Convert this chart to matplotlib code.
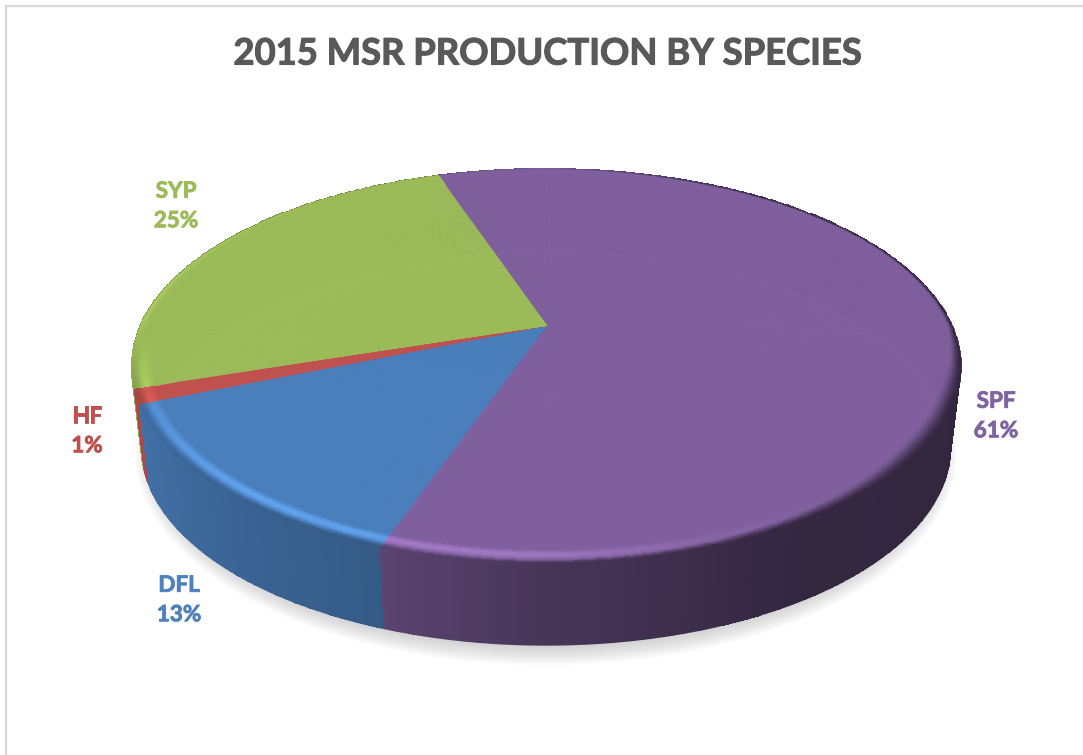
import numpy as np
import matplotlib
matplotlib.use("Agg")
import matplotlib.pyplot as plt
import matplotlib.patheffects as pe
from matplotlib.collections import LineCollection

# slices go clockwise from the start angle, same order as in the sheet
species = ["SPF", "DFL", "HF", "SYP"]
share = [60.5, 13.4, 1.2, 24.9]
share_labels = ["61%", "13%", "1%", "25%"]
top_colors = ["#7F5F9D", "#4A7EBB", "#C0504D", "#9BBB59"]
label_colors = ["#8064A2", "#4F81BD", "#C0504D", "#9BBB59"]
title = "2015 MSR PRODUCTION BY SPECIES"

# label anchors, in figure pixels
label_xy = [(996, 416), (179, 600), (87, 431), (176, 206)]

plt.rcParams["font.family"] = ["Lato", "DejaVu Sans"]

# pie geometry, perspective circle
cx, cy = 546, 325
b, a, k = 406.0, 189.2, 0.205
start = 108.5
side_dy, side_sx = 82.0, 0.975
r0 = 0.95


def project(t, r=1.0):
    t = np.radians(t)
    d = 1 + k * r * np.sin(t)
    return b * r * np.cos(t) / d, -a * r * np.sin(t) / d


def side_level(t):
    return np.interp(np.mod(t, 360), [0, 180, 195, 250, 270, 300, 360],
                     [.39, .80, .92, .72, .56, .41, .39])


def edge_level(t):
    return np.interp(np.mod(t, 360), [0, 60, 90, 130, 175, 195, 250, 270, 300, 360],
                     [.42, .50, .95, 1.0, 1.10, .88, .70, .56, .41, .42])


def glow(t):
    return np.interp(np.mod(t, 360), [0, 185, 205, 230, 265, 290, 310, 360],
                     [0, 0, .16, .30, .26, .06, 0, 0])


def blend_start(t):
    return np.interp(np.mod(t, 360), [0, 30, 90, 200, 270, 290, 325, 340, 360],
                     [.75, .85, .85, .55, .72, .55, .05, .10, .75])


def smooth(u):
    u = np.clip(u, 0, 1)
    return u * u * (3 - 2 * u)


fig = plt.figure(figsize=(10.83, 7.55), dpi=100)
ax = fig.add_axes([0, 0, 1, 1])
ax.set_xlim(0, 1083)
ax.set_ylim(755, 0)
ax.axis("off")

# chart frame, cut by the screenshot at right and bottom
ax.plot([6, 6, 1083], [755, 6, 6], color="#D9D9D9", lw=1.6, solid_capstyle="butt")

# soft shadow under the disc
tt = np.linspace(0, 360, 361)
for i in range(14):
    sx = 411 - i * 2.0
    sy = 213 - i * 2.0
    ax.fill(cx + sx * np.cos(np.radians(tt)), 452 + sy * np.sin(np.radians(tt)),
            color="#8C8C8C", alpha=0.045, lw=0)

angles = start - np.cumsum([0] + share) * 360.0 / sum(share)


def slice_angles(i):
    n = max(int(abs(angles[i + 1] - angles[i])) * 2, 4)
    return np.linspace(angles[i], angles[i + 1], n)


# side wall first, back slices before front ones
for i in [3, 2, 1, 0]:
    ts = slice_angles(i)
    if i != 0:
        ts = np.sort(ts)
    base = np.array(matplotlib.colors.to_rgb(top_colors[i]))
    x, y = project(ts)
    xt, yt = cx + x, cy + y
    xb, yb = cx + x * side_sx, cy + y + side_dy
    # mesh without antialiasing, so smooth the lower outline with a line
    mid = (ts[:-1] + ts[1:]) / 2
    rgb = np.clip(base[None, :] * side_level(mid)[:, None], 0, 1)
    pts = np.column_stack([xb, yb])
    segs = np.stack([pts[:-1], pts[1:]], axis=1)
    ax.add_collection(LineCollection(segs, colors=rgb, linewidths=1.0, zorder=2))
    v = np.linspace(0, 1, 3)[:, None]
    X = xt[None, :] * (1 - v) + xb[None, :] * v
    Y = yt[None, :] * (1 - v) + yb[None, :] * v
    C = np.repeat(rgb[None, :, :], 2, axis=0)
    ax.pcolormesh(X, Y, C, shading="flat", antialiased=False, edgecolors="none", zorder=2)

# top surfaces with the bevel along the rim
r_nodes = np.concatenate([[0.0, 0.5, 0.9], np.linspace(r0, 1.0, 16)])
for i, name in enumerate(species):
    ts = slice_angles(i)
    base = np.array(matplotlib.colors.to_rgb(top_colors[i]))
    T, R = np.meshgrid(ts, r_nodes)
    X, Y = project(T, R)
    tm = (ts[:-1] + ts[1:]) / 2
    rm = (r_nodes[:-1] + r_nodes[1:]) / 2
    Tm, Rm = np.meshgrid(tm, rm)
    u = np.clip((Rm - r0) / (1 - r0), 0, 1)
    lit = 1 + glow(Tm) * np.sin(np.pi * np.clip(u / 0.85, 0, 1)) ** 2
    w = smooth((u - blend_start(Tm)) / (1 - blend_start(Tm)))
    level = lit * (1 - w) + edge_level(Tm) * w
    C = np.clip(base[None, None, :] * level[:, :, None], 0, 1)
    ax.pcolormesh(cx + X, cy + Y, C, shading="flat", antialiased=True, edgecolors="face", linewidth=0.5, zorder=3)

ax.text(547, 54, title, ha="center", va="center", fontsize=26.2, fontweight="bold", color="#595959",
        path_effects=[pe.withStroke(linewidth=0.8, foreground="#595959")])

for name, pct, (lx, ly), col in zip(species, share_labels, label_xy, label_colors):
    ax.text(lx, ly, f"{name}\n{pct}", ha="center", va="center", fontsize=16.2, fontweight="bold",
            color=col, linespacing=1.5,
            path_effects=[pe.withStroke(linewidth=0.6, foreground=col)])

fig.savefig("out.png", dpi=100, facecolor="white")
